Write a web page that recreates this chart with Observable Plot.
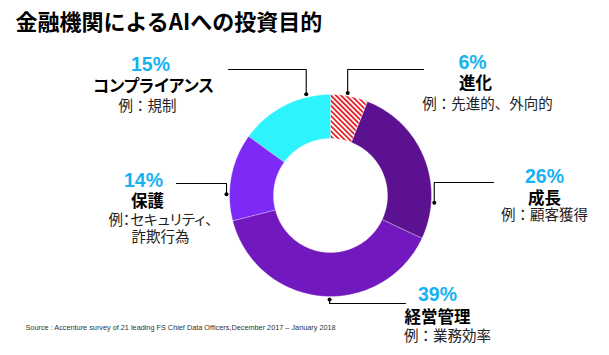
<!DOCTYPE html>
<html>
<head>
<meta charset="utf-8">
<script src="https://cdn.jsdelivr.net/npm/d3@7"></script>
<script src="https://cdn.jsdelivr.net/npm/@observablehq/plot@0.6"></script>
<style>
  html, body { margin: 0; padding: 0; background: #fff; }
  #chart svg { display: block; }
</style>
</head>
<body>
<div id="chart"></div>
<script>
// ---- data ----
const titleText = "金融機関によるAIへの投資目的";
const sourceText = "Source : Accenture survey of 21 leading FS Chief Data Officers,December 2017 – January 2018";
const categories = ["進化", "成長", "経営管理", "保護", "コンプライアンス"];
const shares = [6, 26, 39, 14, 15];
const pctLabels = ["6%", "26%", "39%", "14%", "15%"];
const exampleLabels = ["例：先進的、外向的", "例：顧客獲得", "例：業務効率", "例：セキュリティ、\n詐欺行為", "例：規制"];

// ---- layout / styles ----
const W = 609, H = 355;
const CX = 330, CY = 195, R_OUT = 101, R_IN = 57, R_DOT = 104;
const sliceFills = ["url(#hatch)", "#5c1290", "#7118bf", "#7d2af6", "#2df3fc"];
const leaderAngle = [9.5, 94, 180.5, 270.7, 346.5];
const leaderElbowY = [69, 182, 303, 183, 69];
const leaderEndX = [423, 493, 405, 176, 228];
const pctX = [472, 544, 437, 143, 150], pctY = [68.3, 182.3, 300.7, 186.7, 70.7];
const nameX = [475, 544, 437, 147, 153], nameY = [88.3, 203.3, 322.8, 206.5, 91.5];
const exX = [487, 544, 447, 160, 147], exY = [108.3, 219.5, 340.5, 241.5, 110];
const JP = "'Noto Sans CJK JP', 'Noto Sans', sans-serif";
const LAT = "'Liberation Sans', Arial, sans-serif";
const PCT_COLOR = "#16b2f2";

// slice geometry from shares
const total = d3.sum(shares);
let cum = 0;
const slices = categories.map((c, i) => {
  const a0 = cum / total * 2 * Math.PI;
  cum += shares[i];
  const a1 = cum / total * 2 * Math.PI;
  const n = Math.max(4, Math.ceil(shares[i] * 3));
  const pts = [];
  for (let k = 0; k <= n; k++) {
    const a = a0 + (a1 - a0) * k / n;
    pts.push({x: CX + R_OUT * Math.sin(a), y: CY - R_OUT * Math.cos(a)});
  }
  for (let k = n; k >= 0; k--) {
    const a = a0 + (a1 - a0) * k / n;
    pts.push({x: CX + R_IN * Math.sin(a), y: CY - R_IN * Math.cos(a)});
  }
  return {category: c, fill: sliceFills[i], pts};
});

// leaders
const leaders = categories.map((c, i) => {
  const a = leaderAngle[i] * Math.PI / 180;
  const dx = CX + R_DOT * Math.sin(a), dy = CY - R_DOT * Math.cos(a);
  return {category: c, dot: {x: dx, y: dy}, pts: [{x: dx, y: dy}, {x: dx, y: leaderElbowY[i]}, {x: leaderEndX[i], y: leaderElbowY[i]}]};
});

const labels = categories.map((c, i) => ({
  name: c, pct: pctLabels[i], ex: exampleLabels[i],
  px: pctX[i], py: pctY[i], nx: nameX[i], ny: nameY[i], ex_x: exX[i], ex_y: exY[i]
}));

const chart = Plot.plot({
  width: W, height: H, margin: 0,
  x: {domain: [0, W], range: [0, W], axis: null},
  y: {domain: [0, H], range: [0, H], axis: null},
  style: {background: "#fff"},
  marks: [
    ...slices.map(s => Plot.line(s.pts, {x: "x", y: "y", fill: s.fill, stroke: "#ffffff", strokeWidth: 0.5, strokeOpacity: 0.6, curve: "linear-closed"})),
    ...leaders.map(l => Plot.line(l.pts, {x: "x", y: "y", stroke: "#000", strokeWidth: 1.1})),
    Plot.dot(leaders, {x: d => d.dot.x, y: d => d.dot.y, r: 2, fill: "#000"}),
    Plot.text(labels, {x: "px", y: "py", text: "pct", textAnchor: "middle", lineAnchor: "bottom", fontFamily: LAT, fontWeight: 900, fontSize: 19.5, fill: PCT_COLOR}),
    Plot.text(labels, {x: "nx", y: "ny", text: "name", textAnchor: "middle", lineAnchor: "bottom", fontFamily: JP, fontWeight: "bold", fontSize: 16.5, fill: "#000"}),
    Plot.text(labels, {x: "ex_x", y: "ex_y", text: "ex", textAnchor: "middle", lineAnchor: "bottom", lineHeight: 1.17, fontFamily: JP, fontSize: 14.5, fill: "#222"}),
    Plot.text([titleText], {x: 15, y: 29.5, text: d => d, textAnchor: "start", lineAnchor: "bottom", fontFamily: JP, fontWeight: "bold", fontSize: 22, fill: "#000"}),
    Plot.text([sourceText], {x: 25, y: 329, text: d => d, textAnchor: "start", lineAnchor: "bottom", fontFamily: LAT, fontSize: 7.3, fill: "#333"})
  ]
});

// hatch pattern defs
const svg = d3.select(chart);
const defs = svg.insert("defs", ":first-child");
const pat = defs.append("pattern").attr("id", "hatch").attr("patternUnits", "userSpaceOnUse")
  .attr("width", 3.6).attr("height", 3.6).attr("patternTransform", "rotate(-45)");
pat.append("rect").attr("width", 3.6).attr("height", 3.6).attr("fill", "#fff");
pat.append("rect").attr("width", 1.7).attr("height", 3.6).attr("fill", "#e8141c");

svg.selectAll("text").filter(function() { return /[ァ-ヶー]/.test(this.textContent); })
  .style("font-feature-settings", "'palt'");

document.getElementById("chart").appendChild(chart);
</script>
</body>
</html>
